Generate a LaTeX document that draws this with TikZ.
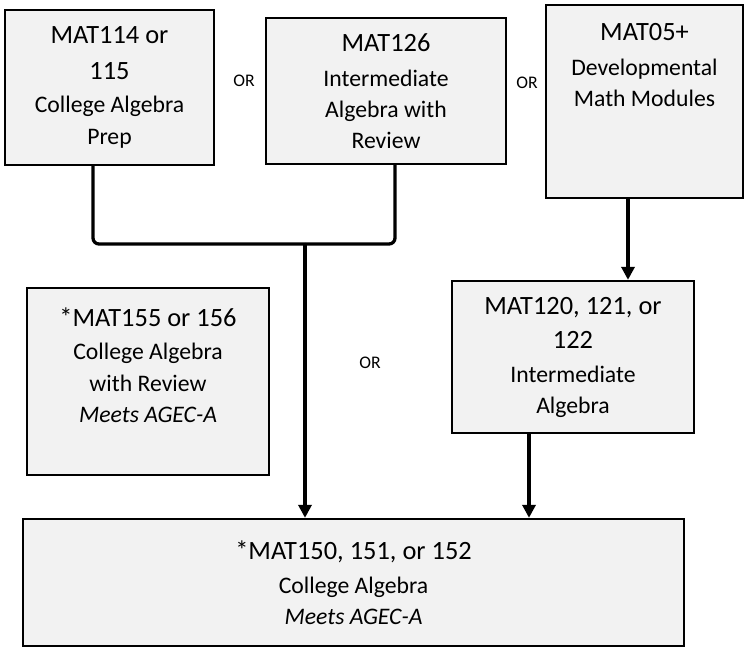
\documentclass[tikz,border=0pt]{standalone}
\usepackage{fontspec}
\setmainfont{Carlito}
\usetikzlibrary{arrows.meta,positioning}
\definecolor{boxgray}{HTML}{F2F2F2}
\newcommand{\bigline}{\fontsize{26.4}{33}\selectfont}
\newcommand{\smallline}{\fontsize{23.7}{31}\selectfont}

\begin{document}
\begin{tikzpicture}[ x=1pt, y=-1pt,
	  course/.style={ draw, line width=2.3pt, fill=boxgray, inner sep=0pt },
	  coursetext/.style={ align=center, inner sep=0pt, font=\smallline },
	  link/.style={ line width=3.3pt, rounded corners=6pt },
	  goes/.style={ link, -{Triangle[length=13pt,width=13pt]} },
	  ortext/.style={ font=\fontsize{17.7}{20}\selectfont } ]
	  \useasboundingbox (0,0) rectangle (752,647);

	  % top row
	  \node (mat114) [ course, coursetext, minimum width=209pt, minimum height=155pt ] at (109.5,87.5)
	    {{\bigline MAT114 or}\\[5pt]{\bigline 115}\\[2pt]College Algebra\\[1pt]Prep};
	  \node (mat126) [ course, coursetext, minimum width=240pt, minimum height=146pt ] at (386,91)
	    {{\bigline MAT126}\\[4pt]Intermediate\\Algebra with\\Review};
	  \node (mat05) [ course, minimum width=197pt, minimum height=193pt ] at (644.5,101.5) {};
	  \node (mat05txt) [ coursetext, below=19.5pt of mat05.north ]
	    {{\bigline MAT05+}\\[4pt]Developmental\\Math Modules};

	  \node (or1) [ ortext ] at (244,81) {OR};
	  \node (or2) [ ortext ] at (527,83) {OR};

	  % middle row
	  \node (mat155) [ course, minimum width=242pt, minimum height=187pt ] at (148,381.5) {};
	  \node (mat155txt) [ coursetext, below=20.5pt of mat155.north ]
	    {{\bigline *MAT155 or 156}\\[2pt]College Algebra\\[1pt]with Review\\\textit{Meets AGEC-A}};
	  \node (mat120) [ course, coursetext, minimum width=242pt, minimum height=152pt ] at (573,357)
	    {{\bigline MAT120, 121, or}\\[3pt]{\bigline 122}\\[3pt]Intermediate\\Algebra};

	  \node (or3) [ ortext ] at (370,363) {OR};

	  % bottom
	  \node (mat150) [ course, coursetext, minimum width=661pt, minimum height=127pt ] at (353.5,582.5)
	    {{\bigline *MAT150, 151, or 152}\\[3pt]College Algebra\\\textit{Meets AGEC-A}};

	  % connectors
	  \coordinate (join) at (305,244);
	  \draw [ link ] ([xshift=-16.5pt]mat114.south) |- (join);
	  \draw [ link ] ([xshift=9pt]mat126.south) |- (join);
	  \draw [ goes ] (join) -- (join |- mat150.north);

	  \coordinate (devout) at ([xshift=-16.5pt]mat05.south);
	  \draw [ goes ] (devout) -- (devout |- mat120.north);

	  \coordinate (intout) at ([xshift=-44pt]mat120.south);
	  \draw [ goes ] (intout) -- (intout |- mat150.north);

\end{tikzpicture}
\end{document}
